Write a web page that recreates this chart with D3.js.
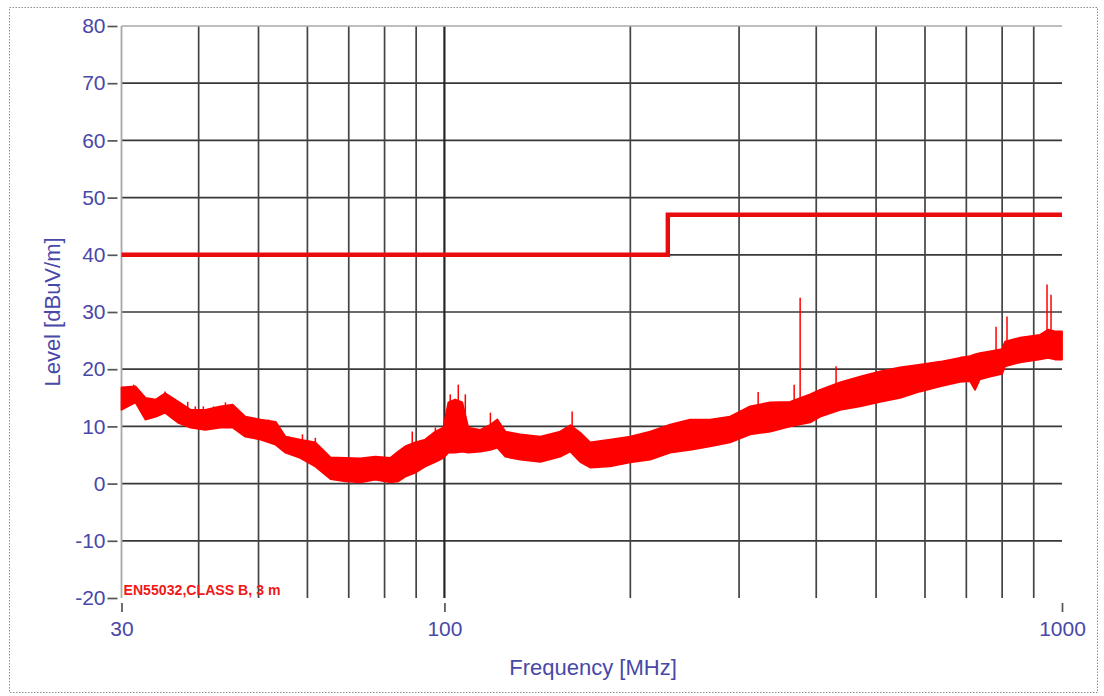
<!DOCTYPE html>
<html>
<head>
<meta charset="utf-8">
<script src="https://cdn.jsdelivr.net/npm/d3@7"></script>
<style>
  html, body { margin: 0; padding: 0; background: #fff; }
  svg { display: block; }
  text { font-family: "Liberation Sans", Arial, sans-serif; }
</style>
</head>
<body>
<svg id="chart" width="1104" height="696"></svg>
<script>
// Measured emission: envelope of the noise band (MHz, dBuV/m)
const traceFreq = [30.0, 31.6, 32.8, 34.1, 35.3, 37.1, 38.8, 41.0, 43.4, 45.4,
  47.6, 50.4, 53.3, 55.3, 58.4, 61.8, 65.4, 69.1, 73.1, 77.3,
  81.7, 84.2, 86.4, 89.7, 93.1, 96.7, 99.6, 101.5, 104.1, 106.9,
  109.3, 114.3, 118.7, 121.8, 125.5, 132.7, 143.0, 154.0, 159.9, 165.9,
  172.2, 185.5, 199.9, 215.3, 232.0, 249.9, 269.3, 290.1, 312.7, 336.9,
  362.9, 391.0, 405.8, 437.2, 471.1, 507.5, 546.8, 589.1, 634.6, 683.7,
  710.0, 723.0, 736.0, 764.6, 800.0, 808.6, 855.2, 921.4, 949.2, 974.3, 1000];
const traceLow = [12.9, 14.2, 11.2, 11.7, 12.4, 10.6, 9.8, 9.4, 9.8, 9.8,
  8.2, 7.7, 6.8, 5.4, 4.5, 3.0, 0.8, 0.4, 0.2, 0.7,
  0.2, 0.4, 1.2, 1.9, 3.0, 3.8, 4.5, 5.4, 5.4, 5.6,
  5.4, 5.6, 5.9, 6.3, 4.7, 4.2, 3.8, 4.7, 5.6, 3.8,
  2.8, 3.0, 3.7, 4.2, 5.4, 5.9, 6.5, 7.2, 8.6, 9.1,
  10.0, 10.7, 11.7, 12.9, 13.5, 14.3, 15.0, 16.1, 17.0, 17.8,
  17.9, 16.4, 18.2, 18.7, 19.2, 20.5, 21.2, 21.7, 22.0, 21.7, 21.7];
const traceHigh = [16.8, 17.0, 15.0, 14.7, 15.8, 14.3, 12.9, 12.9, 13.5, 13.8,
  11.7, 11.2, 10.8, 8.2, 7.7, 7.2, 4.6, 4.5, 4.4, 4.7,
  4.5, 5.6, 6.5, 7.2, 7.7, 9.1, 9.8, 14.2, 14.7, 14.2,
  9.8, 9.4, 10.3, 11.2, 9.1, 8.6, 8.2, 9.1, 10.2, 8.9,
  7.2, 7.7, 8.2, 9.1, 10.3, 11.2, 11.2, 11.7, 13.5, 14.2,
  14.3, 15.6, 16.4, 17.7, 18.7, 19.6, 20.3, 20.8, 21.3, 22.0,
  22.3, 22.6, 22.8, 23.1, 23.5, 24.8, 25.5, 26.0, 26.9, 26.6, 26.6];

// Narrow-band peaks rising above the noise band
const spikeFreq = [31.4, 35.3, 37.0, 38.4, 39.5, 40.7, 42.3, 44.2, 47.6, 50.0,
  51.9, 55.9, 58.9, 61.8, 88.7, 96.7, 102.2, 105.3, 108.1, 118.7,
  161.0, 322.1, 368.4, 376.7, 430.7, 782.0, 814.6, 945.7, 959.9];
const spikeLevel = [17.3, 16.1, 14.3, 14.3, 13.5, 13.5, 13.5, 14.2, 11.7, 11.2,
  11.2, 8.2, 8.6, 8.0, 9.1, 9.8, 15.6, 17.3, 15.6, 12.4,
  12.6, 16.0, 17.3, 32.5, 20.5, 27.4, 29.2, 34.8, 33.0];

// EN55032 Class B, 3 m limit
const limitFreq = [30, 230, 230, 1000];
const limitLevel = [40, 40, 47, 47];

const levelTicks = [-20, -10, 0, 10, 20, 30, 40, 50, 60, 70, 80];
const freqTicks = [30, 100, 1000];
const freqGrid = [40, 50, 60, 70, 80, 90, 100, 200, 300, 400, 500, 600, 700, 800, 900];
const legendText = "EN55032,CLASS B, 3 m";
const xTitle = "Frequency [MHz]";
const yTitle = "Level [dBuV/m]";

(function drawChart() {
  const svg = d3.select("#chart");
  const plotLeft = 121.5, plotRight = 1062, plotTop = 26, plotBottom = 598;
  const x = d3.scaleLog().domain([30, 1000]).range([plotLeft, plotRight]);
  const y = d3.scaleLinear().domain([-20, 80]).range([plotBottom, plotTop]);
  const textColor = "#4848a8";
  const red = "#ff0000";
  const font = "'Liberation Sans', Arial, sans-serif";

  // outer dotted frame
  svg.append("rect")
    .attr("x", 9.5).attr("y", 7.5).attr("width", 1088).attr("height", 685)
    .attr("fill", "none").attr("stroke", "#8c8c8c").attr("stroke-width", 1)
    .attr("stroke-dasharray", "1.5,1.5");

  // horizontal grid
  svg.append("g").selectAll("line")
    .data(levelTicks.filter(d => d > -20 && d < 80))
    .join("line")
    .attr("x1", plotLeft).attr("x2", plotRight)
    .attr("y1", d => y(d)).attr("y2", d => y(d))
    .attr("stroke", "#383838").attr("stroke-width", 1.7);

  // vertical grid
  svg.append("g").selectAll("line")
    .data(freqGrid)
    .join("line")
    .attr("x1", d => x(d)).attr("x2", d => x(d))
    .attr("y1", plotTop).attr("y2", plotBottom)
    .attr("stroke", d => d === 100 ? "#262626" : "#444")
    .attr("stroke-width", d => d === 100 ? 2.2 : 1.7);

  // frame: top border and left axis line
  svg.append("line").attr("x1", plotLeft).attr("x2", plotRight).attr("y1", plotTop).attr("y2", plotTop)
    .attr("stroke", "#a8a8a8").attr("stroke-width", 1.5);
  svg.append("line").attr("x1", plotLeft).attr("x2", plotLeft).attr("y1", plotTop).attr("y2", plotBottom)
    .attr("stroke", "#a8a8a8").attr("stroke-width", 1.8);

  // y axis ticks and labels
  const yAxis = svg.append("g")
    .attr("transform", `translate(${plotLeft - 4},0)`)
    .call(d3.axisLeft(y).tickValues(levelTicks).tickSize(10).tickSizeOuter(0).tickPadding(2)
      .tickFormat(d => String(d)));
  yAxis.select(".domain").remove();
  yAxis.selectAll(".tick line").attr("stroke", "#555").attr("stroke-width", 1.7);
  yAxis.selectAll(".tick text").attr("fill", textColor).attr("font-size", 21)
    .attr("font-family", font);

  // x axis ticks and labels
  const xAxis = svg.append("g")
    .attr("transform", `translate(0,${plotBottom + 5})`)
    .call(d3.axisBottom(x).tickValues(freqTicks).tickSize(9).tickSizeOuter(0).tickPadding(9)
      .tickFormat(d => String(d)));
  xAxis.select(".domain").remove();
  xAxis.selectAll(".tick line").attr("stroke", "#555").attr("stroke-width", 1.7);
  xAxis.selectAll(".tick text").attr("fill", textColor).attr("font-size", 21)
    .attr("font-family", font);

  // axis titles
  svg.append("text")
    .attr("x", 593).attr("y", 675)
    .attr("text-anchor", "middle").attr("fill", textColor).attr("font-size", 22)
    .text(xTitle);
  svg.append("text")
    .attr("transform", "translate(60,312) rotate(-90)")
    .attr("text-anchor", "middle").attr("fill", textColor).attr("font-size", 22)
    .text(yTitle);

  // emission trace: noise band
  const band = traceFreq.map((f, i) => ({ f, lo: traceLow[i], hi: traceHigh[i] }));
  svg.append("path")
    .datum(band)
    .attr("d", d3.area().x(d => x(d.f)).y0(d => y(d.lo)).y1(d => y(d.hi)))
    .attr("fill", red).attr("stroke", red).attr("stroke-width", 1.8)
    .attr("stroke-linejoin", "round");

  // narrow-band peaks, rising from the band top
  const logF = traceFreq.map(f => Math.log10(f));
  const bandTop = d3.scaleLinear().domain(logF).range(traceHigh);
  svg.append("g").selectAll("line")
    .data(spikeFreq.map((f, i) => ({ f, v: spikeLevel[i] })))
    .join("line")
    .attr("x1", d => x(d.f)).attr("x2", d => x(d.f))
    .attr("y1", d => y(d.v)).attr("y2", d => y(Math.min(d.v, bandTop(Math.log10(d.f)))) + 2)
    .attr("stroke", red).attr("stroke-width", 1.5);

  // limit line
  svg.append("path")
    .datum(limitFreq.map((f, i) => ({ f, v: limitLevel[i] })))
    .attr("d", d3.line().x(d => x(d.f)).y(d => y(d.v)))
    .attr("fill", "none").attr("stroke", "#e80c0c").attr("stroke-width", 4.4)
    .attr("stroke-linejoin", "miter");

  // limit legend
  svg.append("text")
    .attr("x", plotLeft + 2).attr("y", 595)
    .attr("fill", "#f01818").attr("font-size", 14).attr("font-weight", "bold")
    .attr("textLength", 157).attr("lengthAdjust", "spacingAndGlyphs")
    .text(legendText);
})();
</script>
</body>
</html>
